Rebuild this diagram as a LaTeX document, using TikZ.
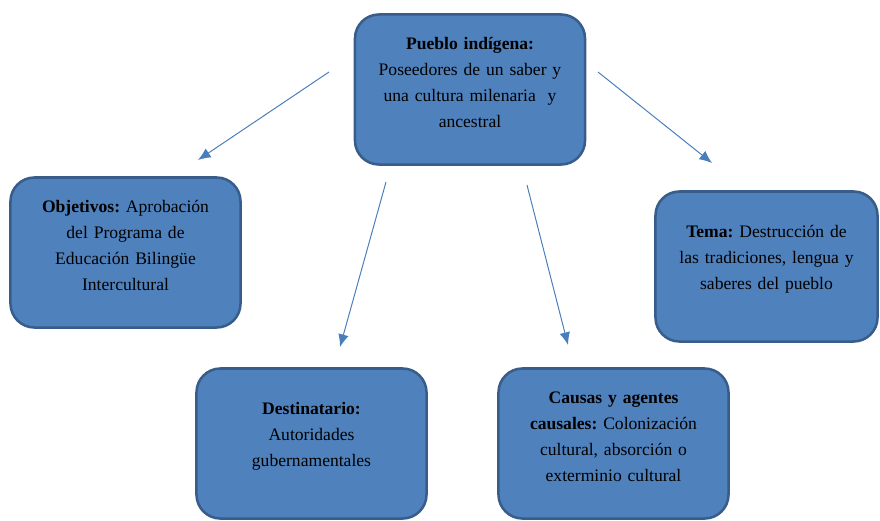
\documentclass[tikz,border=0pt]{standalone}
\usepackage{fontspec}
\setmainfont{Liberation Serif}
\usetikzlibrary{arrows.meta}
\frenchspacing

\definecolor{boxblue}{HTML}{4F81BD}
\definecolor{boxedge}{HTML}{385D8A}
\definecolor{linkblue}{HTML}{4A7EBB}

\tikzset{
    idea/.style={draw=boxedge, fill=boxblue, line width=1.8pt, rounded corners=0.6cm,
        minimum width=5.75cm, minimum height=3.75cm, text width=5.2cm, align=center,
        inner sep=0pt, font=\fontsize{12.5}{18.4}\selectfont,
        execute at end node={\par\vspace*{10pt}}},
    link/.style={draw=linkblue, line width=0.7pt, -{Latex[length=9pt,width=7.5pt]}}
}

\begin{document}
\begin{tikzpicture}[x=0.025cm, y=-0.025cm]
    \useasboundingbox (0,0) rectangle (880,520);

    \node[idea] (pueblo) at (470,89.5) {\textbf{Pueblo indígena:}\\ Poseedores de un saber y\\ una cultura milenaria~ y\\ ancestral};
    \node[idea] (objetivos) at (125.5,252.5) {\textbf{Objetivos:} Aprobación\\ del Programa de\\ Educación Bilingüe\\ Intercultural};
    \node[idea, minimum width=5.55cm] (tema) at (766.5,266.5) {\textbf{Tema:} Destrucción de\\ las tradiciones, lengua y\\ saberes del pueblo};
    \node[idea] (destinatario) at (311.5,443.5) {\textbf{Destinatario:}\\ Autoridades\\ gubernamentales};
    \node[idea] (causas) at (613.5,443.5) {\textbf{Causas y agentes}\\ \textbf{causales:} Colonización\\ cultural, absorción o\\ exterminio cultural};

    % arrow ends
    \coordinate (p1) at (329,72);
    \coordinate (o1) at (198,160);
    \coordinate (p2) at (386,182);
    \coordinate (d1) at (340,347);
    \coordinate (p3) at (527,185);
    \coordinate (c1) at (568,345);
    \coordinate (p4) at (598,72);
    \coordinate (t1) at (712,163);

    \draw[link] (p1) -- (o1);
    \draw[link] (p2) -- (d1);
    \draw[link] (p3) -- (c1);
    \draw[link] (p4) -- (t1);
\end{tikzpicture}
\end{document}
